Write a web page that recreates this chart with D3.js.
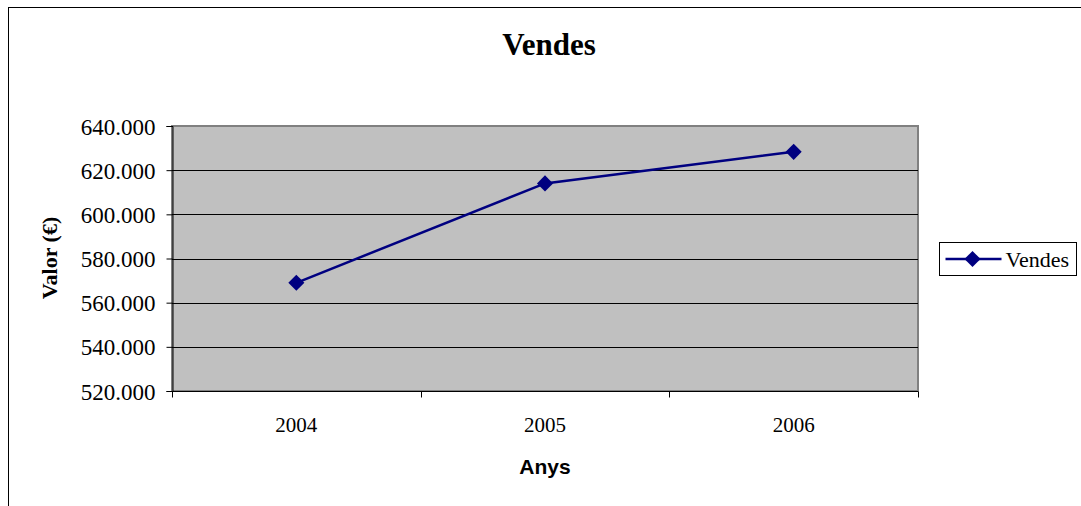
<!DOCTYPE html>
<html lang="ca">
<head>
<meta charset="utf-8">
<title>Vendes</title>
<script src="https://cdn.jsdelivr.net/npm/d3@7"></script>
<style>
  body { margin: 0; background: #fff; }
  svg text { font-family: "Liberation Serif", "DejaVu Serif", serif; fill: #000; }
</style>
</head>
<body>
<script>
// data
var years = ["2004", "2005", "2006"];
var sales = [569000, 614000, 628300];
var yTicks = [520000, 540000, 560000, 580000, 600000, 620000, 640000];

var W = 1081, H = 506;
var plot = { left: 172, right: 918, top: 126, bottom: 391 };

var svg = d3.select("body").append("svg").attr("width", W).attr("height", H);

// outer chart border (runs off the right and bottom of the picture)
svg.append("rect")
  .attr("x", 8.5).attr("y", 7.5)
  .attr("width", W + 10).attr("height", H + 10)
  .attr("fill", "none").attr("stroke", "#000").attr("stroke-width", 1);

var x = d3.scaleBand().domain(years).range([plot.left, plot.right]);
var y = d3.scaleLinear().domain([520000, 640000]).range([plot.bottom, plot.top]);

// grey plot area
svg.append("rect")
  .attr("x", plot.left).attr("y", plot.top)
  .attr("width", plot.right - plot.left).attr("height", plot.bottom - plot.top)
  .attr("fill", "#c0c0c0").attr("stroke", "#808080").attr("stroke-width", 2);

// gridlines
svg.append("g").selectAll("line").data(yTicks.slice(1, -1)).enter().append("line")
  .attr("x1", plot.left).attr("x2", plot.right)
  .attr("y1", function(d) { return Math.round(y(d)) + 0.5; })
  .attr("y2", function(d) { return Math.round(y(d)) + 0.5; })
  .attr("stroke", "#000").attr("stroke-width", 1);

var fmt = function(d) { return d3.format(",")(d).replace(/,/g, "."); };

// y axis
var yAxis = svg.append("g")
  .attr("transform", "translate(" + (plot.left + 0.5) + ",0)")
  .call(d3.axisLeft(y).tickValues(yTicks).tickFormat(fmt).tickSize(6).tickPadding(11));
yAxis.attr("font-family", "Liberation Serif, serif").attr("font-size", 23);
yAxis.select(".domain").attr("stroke", "#000");
yAxis.selectAll("text").attr("dy", "0.35em");

// x axis
var xAxis = svg.append("g")
  .attr("transform", "translate(0," + (plot.bottom + 0.5) + ")");
xAxis.append("line")
  .attr("x1", plot.left).attr("x2", plot.right)
  .attr("stroke", "#000");
var edges = [plot.left].concat(years.map(function(d) { return x(d) + x.bandwidth(); }));
xAxis.selectAll("line.tk").data(edges).enter().append("line").attr("class", "tk")
  .attr("x1", function(d) { return Math.round(d) + 0.5; })
  .attr("x2", function(d) { return Math.round(d) + 0.5; })
  .attr("y1", 0).attr("y2", 6).attr("stroke", "#000");
xAxis.selectAll("text").data(years).enter().append("text")
  .attr("x", function(d) { return x(d) + x.bandwidth() / 2; })
  .attr("y", 40)
  .attr("text-anchor", "middle")
  .style("font-size", "21px")
  .text(function(d) { return d; });

// line + markers
var color = "#000080";
var line = d3.line()
  .x(function(d, i) { return x(years[i]) + x.bandwidth() / 2; })
  .y(function(d) { return y(d); });
svg.append("path").datum(sales)
  .attr("d", line).attr("fill", "none")
  .attr("stroke", color).attr("stroke-width", 2.5);

var diamond = d3.symbol().type(d3.symbolDiamond2).size(165);
svg.selectAll("path.pt").data(sales).enter().append("path").attr("class", "pt")
  .attr("d", diamond)
  .attr("transform", function(d, i) {
    return "translate(" + (x(years[i]) + x.bandwidth() / 2) + "," + y(d) + ")";
  })
  .attr("fill", color);

// title
svg.append("text")
  .attr("x", 549).attr("y", 55)
  .attr("text-anchor", "middle")
  .style("font-size", "31px").style("font-weight", "bold")
  .text("Vendes");

// axis titles
svg.append("text")
  .attr("x", 545).attr("y", 474)
  .attr("text-anchor", "middle")
  .style("font-family", "'Liberation Sans', Arial, sans-serif")
  .style("font-size", "21px").style("font-weight", "bold")
  .text("Anys");

svg.append("text")
  .attr("transform", "translate(57,258) rotate(-90)")
  .attr("text-anchor", "middle")
  .style("font-size", "22px").style("font-weight", "bold")
  .text("Valor (€)");

// legend
var lg = svg.append("g").attr("transform", "translate(939.5,242.5)");
lg.append("rect").attr("width", 137).attr("height", 33)
  .attr("fill", "#fff").attr("stroke", "#000");
lg.append("line").attr("x1", 6).attr("x2", 62).attr("y1", 16.5).attr("y2", 16.5)
  .attr("stroke", color).attr("stroke-width", 2.5);
lg.append("path").attr("d", diamond).attr("transform", "translate(33,16.5)").attr("fill", color);
lg.append("text").attr("x", 66).attr("y", 24)
  .style("font-size", "22px").text("Vendes");
</script>
</body>
</html>
